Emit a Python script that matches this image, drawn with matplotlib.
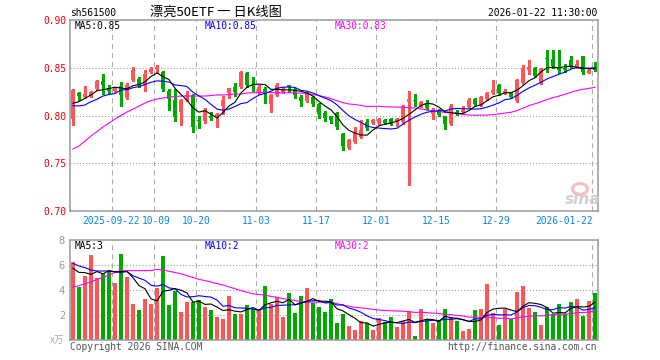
"""
Grafico diario (K-line) do ETF sh561500 no estilo do site Sina:
candles + MA5/MA10/MA30 em cima, volume + medias embaixo.
Gera out.png (660x360).
"""
import matplotlib
matplotlib.use('Agg')
import matplotlib.pyplot as plt
import pandas as pd
from matplotlib.patches import Ellipse
from matplotlib.transforms import blended_transform_factory, offset_copy

W, H = 660, 360

# --- dados ------------------------------------------------------------------
holidays = list(pd.date_range('2025-10-01', '2025-10-08')) + \
    list(pd.to_datetime(['2026-01-01', '2026-01-02']))
dates = pd.bdate_range('2025-09-11', '2026-01-22')
dates = dates[~dates.isin(holidays)]

opens = [0.796, 0.824, 0.819, 0.820, 0.828, 0.836, 0.829, 0.826, 0.831, 0.818,
         0.837, 0.838, 0.832, 0.846, 0.849, 0.846, 0.826, 0.816, 0.804, 0.819,
         0.821, 0.7955, 0.794, 0.799, 0.798, 0.810, 0.824, 0.830, 0.830, 0.845,
         0.832, 0.825, 0.828, 0.812, 0.821, 0.825, 0.832, 0.828, 0.819, 0.815,
         0.819, 0.812, 0.803, 0.799, 0.803, 0.781, 0.766, 0.772, 0.777, 0.793,
         0.792, 0.792, 0.795, 0.796, 0.793, 0.793, 0.814, 0.816, 0.810, 0.813,
         0.802, 0.806, 0.799, 0.791, 0.804, 0.804, 0.809, 0.817, 0.811, 0.817,
         0.824, 0.832, 0.823, 0.824, 0.8155, 0.834, 0.848, 0.850, 0.834, 0.860,
         0.859, 0.850, 0.8497, 0.858, 0.851, 0.8623, 0.845, 0.8487]
highs = [0.828, 0.825, 0.831, 0.826, 0.837, 0.843, 0.832, 0.830, 0.835, 0.834,
         0.851, 0.840, 0.848, 0.851, 0.853, 0.847, 0.828, 0.828, 0.817, 0.826,
         0.823, 0.800, 0.808, 0.804, 0.803, 0.820, 0.829, 0.834, 0.847, 0.846,
         0.840, 0.832, 0.830, 0.823, 0.834, 0.830, 0.832, 0.829, 0.821, 0.825,
         0.820, 0.813, 0.805, 0.800, 0.804, 0.782, 0.775, 0.788, 0.795, 0.796,
         0.796, 0.797, 0.796, 0.797, 0.797, 0.811, 0.826, 0.823, 0.815, 0.816,
         0.808, 0.807, 0.800, 0.812, 0.806, 0.810, 0.818, 0.818, 0.820, 0.825,
         0.837, 0.833, 0.828, 0.825, 0.838, 0.853, 0.858, 0.8505, 0.850, 0.869,
         0.8686, 0.8686, 0.854, 0.8623, 0.858, 0.8623, 0.850, 0.856]
lows = [0.790, 0.816, 0.818, 0.819, 0.827, 0.823, 0.824, 0.825, 0.810, 0.817,
        0.836, 0.830, 0.826, 0.845, 0.845, 0.826, 0.806, 0.794, 0.790, 0.815,
        0.783, 0.787, 0.792, 0.795, 0.788, 0.802, 0.818, 0.820, 0.829, 0.830,
        0.826, 0.823, 0.813, 0.804, 0.820, 0.824, 0.825, 0.818, 0.810, 0.814,
        0.810, 0.797, 0.7945, 0.792, 0.786, 0.764, 0.765, 0.771, 0.776, 0.785,
        0.791, 0.790, 0.791, 0.790, 0.789, 0.791, 0.727, 0.810, 0.809, 0.806,
        0.796, 0.799, 0.786, 0.790, 0.801, 0.803, 0.808, 0.811, 0.810, 0.816,
        0.823, 0.8215, 0.822, 0.818, 0.8145, 0.833, 0.843, 0.840, 0.833, 0.846,
        0.850, 0.8442, 0.846, 0.850, 0.850, 0.843, 0.844, 0.8466]
closes = [0.827, 0.820, 0.822, 0.825, 0.836, 0.832, 0.826, 0.829, 0.821, 0.832,
          0.848, 0.832, 0.843, 0.849, 0.851, 0.828, 0.817, 0.798, 0.816, 0.821,
          0.788, 0.7945, 0.806, 0.797, 0.802, 0.816, 0.829, 0.825, 0.846, 0.832,
          0.831, 0.830, 0.823, 0.821, 0.832, 0.828, 0.830, 0.821, 0.8155, 0.823,
          0.812, 0.802, 0.797, 0.7953, 0.788, 0.768, 0.774, 0.783, 0.785, 0.787,
          0.795, 0.796, 0.792, 0.7908, 0.796, 0.810, 0.817, 0.815, 0.8145, 0.8075,
          0.806, 0.8005, 0.791, 0.810, 0.803, 0.806, 0.816, 0.812, 0.819, 0.824,
          0.827, 0.824, 0.8255, 0.819, 0.8372, 0.850, 0.8505, 0.8414, 0.849, 0.8595,
          0.852, 0.8476, 0.848, 0.851, 0.854, 0.8452, 0.8476, 0.8476]
volumes = [6.27, 4.24, 5.12, 6.80, 4.93, 5.39, 5.52, 4.59, 6.88, 5.04,
           2.88, 2.40, 3.28, 2.88, 4.19, 6.72, 2.80, 3.95, 2.27, 3.07,
           3.07, 3.20, 2.64, 2.40, 1.87, 1.68, 3.52, 2.08, 2.08, 2.80,
           2.48, 2.40, 4.32, 2.88, 3.44, 1.84, 3.76, 2.16, 3.52, 4.16,
           2.96, 2.64, 2.24, 3.28, 1.39, 2.08, 1.12, 0.80, 1.52, 1.33,
           0.80, 1.76, 1.47, 1.84, 1.04, 1.52, 2.32, 0.32, 2.48, 1.68,
           1.36, 1.55, 2.48, 1.81, 1.52, 0.75, 0.88, 2.40, 2.48, 4.48,
           2.13, 1.20, 2.48, 1.68, 3.84, 4.32, 2.59, 2.24, 1.20, 2.61,
           2.08, 2.88, 2.08, 3.04, 3.28, 1.92, 3.12, 3.76]

# inicio das medias (dependem de pregoes anteriores a janela)
ma5_head = [0.8128, 0.8145, 0.818, 0.8215]
ma10_head = [0.8103, 0.810, 0.811, 0.8145, 0.817, 0.8204, 0.822, 0.823, 0.8267]
ma30_head = [0.7649, 0.7681, 0.7733, 0.7785, 0.7832, 0.7880, 0.7921, 0.7963,
             0.8000, 0.8037, 0.8068, 0.8099, 0.8131, 0.8157, 0.8173, 0.8183,
             0.8194, 0.8199, 0.8204, 0.8204, 0.8204, 0.8204, 0.8204, 0.8209,
             0.8215, 0.8215, 0.8220, 0.8225, 0.8225]
vma5_head = [5.73, 5.41, 5.39, 5.25]
vma10_head = [6.13, 5.92, 5.79, 5.60, 5.52, 5.52, 5.52, 5.47, 5.41]
vma30_head = [4.21, 4.35, 4.50, 4.65, 4.85, 5.00, 5.20, 5.40, 5.55, 5.55,
              5.55, 5.55, 5.55, 5.55, 5.65, 5.60, 5.50, 5.40, 5.30, 5.15,
              5.00, 4.85, 4.75, 4.65, 4.50, 4.40, 4.25, 4.10, 3.95]

tick_dates = ['2025-09-22', '2025-10-09', '2025-10-20', '2025-11-03', '2025-11-17',
              '2025-12-01', '2025-12-15', '2025-12-29', '2026-01-22']
tick_labels = ['2025-09-22', '10-09', '10-20', '11-03', '11-17',
               '12-01', '12-15', '12-29', '2026-01-22']

UP, DOWN = '#ff5555', '#00a800'
MONO = 'DejaVu Sans Mono'
CJK = ['Noto Sans CJK SC', 'DejaVu Sans']
FS = 6.9


def moving_avg(values, n, head):
    s = pd.Series(values).rolling(n).mean()
    s.iloc[:len(head)] = head
    return s.values


def fig_xy(x, y):
    """pixel da imagem -> fracao da figura"""
    return x / W, 1 - y / H


def setup_axis(ax, ymin, ymax, hgrid, vgrid):
    ax.set_xlim(-0.5, len(closes) - 0.5)
    ax.set_ylim(ymin, ymax)
    ax.set_xticks([])
    ax.set_yticks([])
    for sp in ax.spines.values():
        sp.set_color('#999999')
        sp.set_linewidth(1.1)
    for y in hgrid:
        ax.axhline(y, color='#999999', lw=0.75, ls=(0, (0.75, 1.5)), zorder=0)
    for x in vgrid:
        ax.axvline(x, color='#aaaaaa', lw=0.75, ls=(0, (3.6, 2.9)), zorder=0)


def main():
    plt.rcParams['lines.scale_dashes'] = False
    n = len(closes)
    xs = list(range(n))
    colors = [UP if c >= o else DOWN for o, c in zip(opens, closes)]
    tick_idx = [list(dates.strftime('%Y-%m-%d')).index(d) for d in tick_dates]
    vgrid = [i - 0.45 for i in tick_idx]

    fig = plt.figure(figsize=(W / 100, H / 100), dpi=100)
    fig.patch.set_facecolor('white')

    # --- painel de precos
    ax = fig.add_axes([70 / W, 1 - 211 / H, 528 / W, 191 / H])
    setup_axis(ax, 0.70, 0.90, [0.75, 0.80, 0.85], vgrid)
    bottoms = [min(o, c) for o, c in zip(opens, closes)]
    heights = [max(abs(c - o), 0.0011) for o, c in zip(opens, closes)]
    ax.vlines(xs, lows, highs, colors=colors, lw=0.8, antialiased=False, zorder=2)
    ax.bar(xs, heights, bottom=bottoms, width=0.8, color=colors,
           linewidth=0, antialiased=False, zorder=3)

    ma5 = moving_avg(closes, 5, ma5_head)
    ma10 = moving_avg(closes, 10, ma10_head)
    ma30 = moving_avg(closes, 30, ma30_head)
    ax.plot(xs, ma30, color='#ff00ff', lw=0.8, zorder=4)
    ax.plot(xs, ma10, color='#0000ff', lw=0.8, zorder=4)
    ax.plot(xs, ma5, color='black', lw=0.8, zorder=4)

    for v in [0.90, 0.85, 0.80, 0.75, 0.70]:
        ax.annotate(f'{v:.2f}', xy=(0, v), xycoords=('axes fraction', 'data'),
                    xytext=(-4, -1), textcoords='offset pixels', ha='right',
                    va='center', color='#ee0000', fontsize=FS, family=MONO)

    trans = blended_transform_factory(ax.transData, ax.transAxes)
    nudge = {0: -1.5, 1: 1.5}
    for k, (i, lab) in enumerate(zip(vgrid, tick_labels)):
        last = k == len(tick_labels) - 1
        tr = offset_copy(trans, fig=fig, x=nudge.get(k, 0), y=-5, units='dots')
        ax.text(i, 0, lab, transform=tr, ha='right' if last else 'center',
                va='top', color='#0888dd', fontsize=FS, family=MONO)

    # rotulos das medias
    for x, lab, col in [(75, f'MA5:{ma5[-1]:.2f}', 'black'),
                        (205, f'MA10:{ma10[-1]:.2f}', '#0000ff'),
                        (335, f'MA30:{ma30[-1]:.2f}', '#ff00ff')]:
        fig.text(*fig_xy(x, 26), lab, color=col, fontsize=FS, family=MONO,
                 va='center', ha='left')

    # marca d'agua
    cx, cy = fig_xy(580, 189)
    fig.add_artist(Ellipse((cx, cy), 15 / W, 11 / H, transform=fig.transFigure,
                           facecolor='none', edgecolor='#f6c0c0', lw=2.2))
    fig.text(*fig_xy(565, 200), 'sina', color='#cfcfcf', fontsize=11,
             fontweight='bold', style='italic', va='center', ha='left')

    # --- painel de volume
    axv = fig.add_axes([70 / W, 1 - 340 / H, 528 / W, 100 / H])
    setup_axis(axv, 0, 8, [2, 4, 6], vgrid)
    axv.bar(xs, volumes, width=0.8, color=colors, linewidth=0,
            antialiased=False, zorder=2)
    vma5 = moving_avg(volumes, 5, vma5_head)
    vma10 = moving_avg(volumes, 10, vma10_head)
    vma30 = moving_avg(volumes, 30, vma30_head)
    axv.plot(xs, vma30, color='#ff00ff', lw=0.8, zorder=4)
    axv.plot(xs, vma10, color='#0000ff', lw=0.8, zorder=4)
    axv.plot(xs, vma5, color='black', lw=0.8, zorder=4)

    for v in [8, 6, 4, 2]:
        axv.annotate(str(v), xy=(0, v), xycoords=('axes fraction', 'data'),
                     xytext=(-5, -1), textcoords='offset pixels', ha='right',
                     va='center', color='#999999', fontsize=7.5, family=MONO)
    fig.text(*fig_xy(64, 340), 'x万', color='#aaaaaa', fontsize=7,
             family=CJK, va='center', ha='right')

    for x, lab, col in [(75, f'MA5:{int(vma5[-1])}', 'black'),
                        (205, f'MA10:{int(vma10[-1])}', '#0000ff'),
                        (335, f'MA30:{int(vma30[-1])}', '#ff00ff')]:
        fig.text(*fig_xy(x, 246), lab, color=col, fontsize=FS, family=MONO,
                 va='center', ha='left')

    # --- textos do topo e rodape
    fig.text(*fig_xy(70, 13), 'sh561500', fontsize=FS, family=MONO,
             va='center', ha='left')
    fig.text(*fig_xy(216, 12), '漂亮50ETF 一 日K线图', fontsize=9.5, family=CJK,
             va='center', ha='center')
    fig.text(*fig_xy(597, 12.5), '2026-01-22 11:30:00', fontsize=FS, family=MONO,
             va='center', ha='right')
    fig.text(*fig_xy(70, 346.5), 'Copyright 2026 SINA.COM', fontsize=FS,
             family=MONO, color='#555555', va='center', ha='left')
    fig.text(*fig_xy(597, 346.5), 'http://finance.sina.com.cn', fontsize=FS,
             family=MONO, color='#555555', va='center', ha='right')

    fig.savefig('out.png', dpi=100)
    plt.close(fig)


if __name__ == '__main__':
    main()
